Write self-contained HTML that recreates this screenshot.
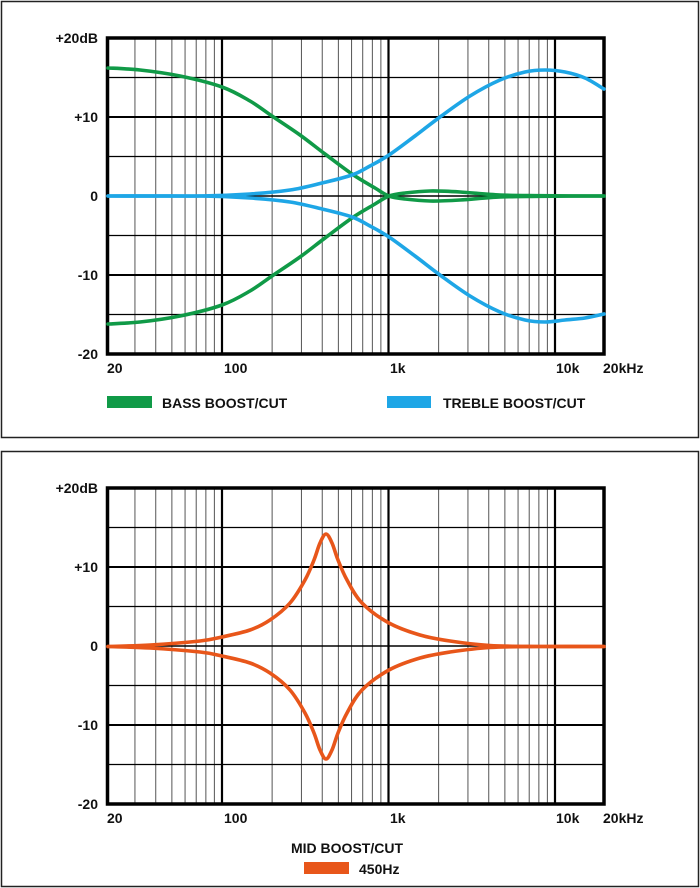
<!DOCTYPE html>
<html><head><meta charset="utf-8"><style>
html,body{margin:0;padding:0;background:#fff;}
svg{display:block;}
text{font-family:"Liberation Sans",Arial,sans-serif;font-weight:bold;font-size:14px;fill:#111;}
</style></head><body>
<svg id="s" width="700" height="888" viewBox="0 0 700 888" xmlns="http://www.w3.org/2000/svg">
<rect x="1.5" y="1.5" width="697" height="436" fill="none" stroke="#222" stroke-width="1.5"/>
<rect x="1.5" y="451.5" width="697" height="435" fill="none" stroke="#222" stroke-width="1.5"/>
<g id="g1"></g>
<g id="g2"></g>
<g text-anchor="end">
<text x="98" y="43">+20dB</text><text x="98" y="122">+10</text><text x="98" y="201">0</text><text x="98" y="280">-10</text><text x="98" y="359">-20</text>
<text x="98" y="493">+20dB</text><text x="98" y="572">+10</text><text x="98" y="651">0</text><text x="98" y="730">-10</text><text x="98" y="809">-20</text>
</g>
<text x="107" y="373">20</text><text x="224" y="373">100</text><text x="390" y="373">1k</text><text x="556" y="373">10k</text><text x="603" y="373">20kHz</text>
<text x="107" y="823">20</text><text x="224" y="823">100</text><text x="390" y="823">1k</text><text x="556" y="823">10k</text><text x="603" y="823">20kHz</text>
<rect x="107" y="396" width="45" height="12" fill="#109a47"/>
<text x="162" y="408">BASS BOOST/CUT</text>
<rect x="387" y="396" width="44" height="12" fill="#1ea6e6"/>
<text x="443" y="408">TREBLE BOOST/CUT</text>
<text x="291" y="853">MID BOOST/CUT</text>
<rect x="304" y="862" width="45" height="12" fill="#e8561a"/>
<text x="359" y="874">450Hz</text>
</svg>
<script>
var NS="http://www.w3.org/2000/svg";
function el(g,t,a){var e=document.createElementNS(NS,t);for(var k in a)e.setAttribute(k,a[k]);g.appendChild(e);return e;}
var X0=107.5,X1=604,dec=166.5,x100=222;
function fx(f){return x100+dec*Math.log10(f/100);}
function grid(g,top,bot){
  var step=(bot-top)/8;
  for(var d=10;d<=10000;d*=10){for(var m=1;m<10;m++){var f=d*m;if(f<=20||f>=20000)continue;var x=fx(f);
    var major=(m==1);el(g,"line",{x1:x,x2:x,y1:top,y2:bot,stroke:major?"#000":"#555","stroke-width":major?2.2:1});}}
  for(var i=1;i<8;i++){var y=top+i*step;var major=(i%2==0);
    el(g,"line",{x1:X0,x2:X1,y1:y,y2:y,stroke:"#000","stroke-width":major?(i==4?1.6:2):1.2});}
  el(g,"rect",{x:X0,y:top,width:X1-X0,height:bot-top,fill:"none",stroke:"#000","stroke-width":3.5});
}
function path(pts){
  var d="M"+pts[0][0]+","+pts[0][1];
  for(var i=0;i<pts.length-1;i++){
    var p0=pts[Math.max(0,i-1)],p1=pts[i],p2=pts[i+1],p3=pts[Math.min(pts.length-1,i+2)];
    var c1=[p1[0]+(p2[0]-p0[0])/6,p1[1]+(p2[1]-p0[1])/6],c2=[p2[0]-(p3[0]-p1[0])/6,p2[1]-(p3[1]-p1[1])/6];
    d+=" C"+c1[0].toFixed(1)+","+c1[1].toFixed(1)+" "+c2[0].toFixed(1)+","+c2[1].toFixed(1)+" "+p2[0]+","+p2[1];
  }
  return d;
}
function mir(pts,z){return pts.map(function(p){return [p[0],2*z-p[1]];});}
function curve(g,pts,c){el(g,"path",{d:path(pts),fill:"none",stroke:c,"stroke-width":3.6,"stroke-linecap":"round"});}
var g1=document.getElementById("g1"),g2=document.getElementById("g2");
grid(g1,38,354);grid(g2,488,804);
var bass=[[108,68],[140,70],[180,76],[222,87],[250,101],[272,116],[300,135],[325,154],[352,174],[375,188],[389,196],[405,199],[430,201],[460,200],[500,197],[540,196.3],[604,196]];
var treb=[[108,196],[200,196],[250,194],[290,190],[322,183],[352,175],[370,166],[389,155],[415,136],[440,117],[470,96],[500,80],[525,72],[545,70],[565,72],[585,78],[604,89]];
var trebc=mir(treb,196);trebc[trebc.length-1]=[604,314];trebc[trebc.length-2]=[585,318];
curve(g1,bass,"#109a47");curve(g1,mir(bass,196),"#109a47");
curve(g1,treb,"#1ea6e6");curve(g1,trebc,"#1ea6e6");
var mid=[[108,646.5],[150,645],[200,641],[222,637],[250,630],[270,620],[290,603],[305,580],[314,560],[320,543],[326,534],[332,543],[338,560],[347,580],[362,603],[389,623],[420,635],[450,641],[490,645.5],[540,646.5],[604,646.5]];
curve(g2,mid,"#e8561a");curve(g2,mir(mid,646.5),"#e8561a");
</script>
</body></html>
